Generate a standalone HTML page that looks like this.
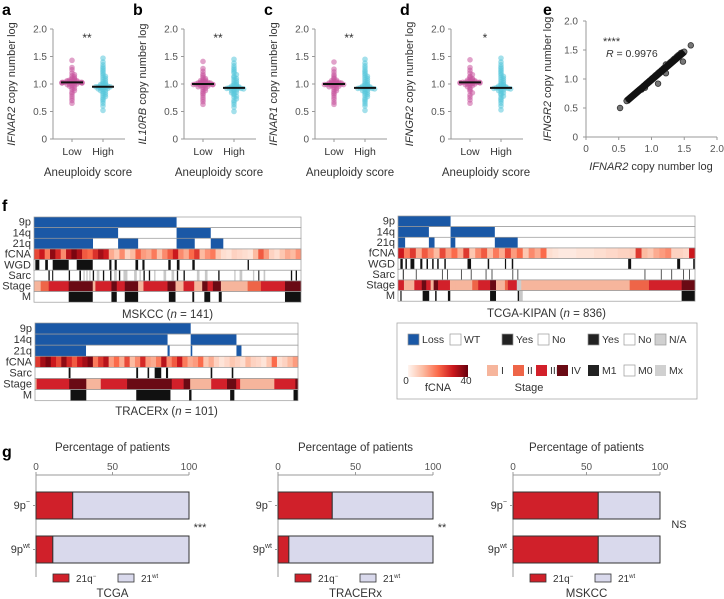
<!DOCTYPE html>
<html><head><meta charset="utf-8"><style>
html,body{margin:0;padding:0;background:#fff;}
svg{display:block;font-family:"Liberation Sans",sans-serif;}
</style></head><body>
<svg id="fig" width="724" height="599" viewBox="0 0 724 599" xmlns="http://www.w3.org/2000/svg"></svg>
<script>
// ---------- data: panels a-d ----------
const geneNames = ["IFNAR2","IL10RB","IFNAR1","IFNGR2"];
const sigLabels = ["**","**","**","*"];
const groupLabels = ["Low","High"];
const medLow = [1.03,1.0,1.0,1.03];
const medHigh = [0.95,0.93,0.93,0.93];
const lowA = [1.43,1.3,1.26,1.2,1.17,1.15,1.13,1.11,1.1,1.09,1.08,1.07,1.06,1.06,1.05,1.05,1.04,1.04,1.04,1.03,1.03,1.03,1.03,1.02,1.02,1.02,1.02,1.01,1.01,1.0,1.0,0.99,0.98,0.97,0.96,0.94,0.92,0.9,0.88,0.85,0.82,0.78,0.74,0.7,0.65];
const highA = [1.47,1.4,1.35,1.31,1.28,1.25,1.22,1.19,1.16,1.14,1.12,1.1,1.08,1.06,1.04,1.02,1.01,1.0,0.99,0.98,0.97,0.96,0.96,0.95,0.95,0.95,0.94,0.94,0.93,0.92,0.91,0.9,0.89,0.88,0.86,0.85,0.83,0.81,0.79,0.77,0.75,0.72,0.69,0.65,0.6,0.52];
const lowB = [1.41,1.28,1.23,1.18,1.15,1.12,1.1,1.08,1.07,1.06,1.05,1.04,1.03,1.03,1.02,1.02,1.01,1.01,1.01,1.0,1.0,1.0,1.0,0.99,0.99,0.99,0.98,0.98,0.97,0.96,0.95,0.94,0.92,0.9,0.88,0.86,0.83,0.8,0.76,0.72,0.68,0.63];
const highB = [1.45,1.38,1.33,1.29,1.26,1.23,1.2,1.17,1.14,1.12,1.1,1.08,1.06,1.04,1.02,1.0,0.99,0.98,0.97,0.96,0.95,0.94,0.94,0.93,0.93,0.93,0.92,0.92,0.91,0.9,0.89,0.88,0.87,0.85,0.84,0.82,0.8,0.78,0.76,0.73,0.7,0.67,0.63,0.58,0.5];
const lowC = [1.4,1.27,1.22,1.17,1.14,1.11,1.09,1.07,1.06,1.05,1.04,1.03,1.03,1.02,1.02,1.01,1.01,1.0,1.0,1.0,1.0,0.99,0.99,0.99,0.98,0.98,0.97,0.96,0.95,0.94,0.92,0.9,0.88,0.86,0.83,0.8,0.76,0.72,0.67,0.63];
const highC = [1.45,1.38,1.33,1.29,1.25,1.22,1.19,1.16,1.14,1.12,1.1,1.08,1.06,1.04,1.02,1.0,0.99,0.98,0.97,0.96,0.95,0.94,0.94,0.93,0.93,0.93,0.92,0.92,0.91,0.9,0.89,0.88,0.86,0.85,0.83,0.81,0.79,0.77,0.74,0.71,0.68,0.64,0.6,0.52];
const lowD = [1.44,1.3,1.25,1.2,1.17,1.14,1.12,1.1,1.09,1.08,1.07,1.06,1.05,1.05,1.04,1.04,1.03,1.03,1.03,1.03,1.02,1.02,1.02,1.01,1.01,1.0,1.0,0.99,0.98,0.97,0.95,0.93,0.9,0.87,0.84,0.8,0.76,0.71,0.65];
const highD = [1.47,1.4,1.35,1.31,1.28,1.25,1.22,1.19,1.16,1.14,1.12,1.1,1.08,1.06,1.04,1.02,1.0,0.99,0.98,0.97,0.96,0.95,0.94,0.94,0.93,0.93,0.93,0.92,0.92,0.91,0.9,0.89,0.88,0.86,0.84,0.82,0.8,0.78,0.75,0.72,0.69,0.65,0.6,0.53];
const lowSets = [lowA,lowB,lowC,lowD];
const highSets = [highA,highB,highC,highD];
const yTicks = [0,0.5,1.0,1.5,2.0];
const yTickLabels = ["0","0.5","1.0","1.5","2.0"];
// ---------- data: panel e ----------
const eX = [0.52,0.62,0.65,0.68,0.7,0.73,0.75,0.78,0.8,0.82,0.85,0.88,0.9,0.91,0.93,0.95,0.97,1.0,1.02,1.05,1.07,1.1,1.1,1.12,1.15,1.18,1.2,1.22,1.22,1.25,1.28,1.3,1.33,1.35,1.38,1.4,1.42,1.45,1.48,1.5,1.6];
const eY = [0.5,0.62,0.65,0.68,0.7,0.73,0.75,0.78,0.8,0.82,0.82,0.88,0.85,0.91,0.93,0.95,0.97,1.0,1.02,1.05,1.07,0.92,1.1,1.12,1.15,1.18,1.2,1.1,1.25,1.25,1.28,1.3,1.33,1.35,1.38,1.4,1.42,1.45,1.3,1.47,1.58];
const eTicks = [0,0.5,1.0,1.5,2.0];
// ---------- data: panel f heatmaps (segments in % of width) ----------
const stageColors = ["#cccccc","#f6b59c","#ee6548","#d2202a","#6a0a14"];
const mskLoss9p = [[0,53.4]];
const mskLoss14q = [[0,31.5],[53.4,66.2]];
const mskLoss21q = [[0,22.1],[31.5,39],[53.4,60.2],[66.2,70.9]];
const mskFcna = [24,30,18,36,28,16,32,38,33,22,20,27,34,30,12,8,16,6,10,21,14,12,18,9,16,22,30,16,12,20,26,10,15,18,8,4,3,6,5,4,3,10,22,14,6,4,8,12,10,15];
const mskWgd = [[0.5,2],[4.2,5.2],[7,13],[16,22],[28.2,29],[30.2,31],[38,39],[40.6,41.4],[50.3,51.2],[53.5,54.5],[59.3,60.2],[80,80.5]];
const mskSarcBlack = [[5.4,5.9],[6.8,7.2],[13,13.5],[17,17.6],[22,22.5],[25.8,26.3],[28.5,29],[31.8,32.3],[41,41.5],[43,43.5],[53.5,54],[56,56.5],[69,69.5],[84,84.4],[96.2,96.7],[98,98.5]];
const mskSarcGray = [[18.5,19],[19.6,20.1],[20.7,21.2],[23.5,24.5],[30,31],[33.5,35],[37.5,38.5],[39.5,40],[45,45.5],[48.5,49.5],[51.5,52.5],[61,62],[64,65],[75,75.5],[77,78],[82,82.5],[86,86.6]];
const mskStage = [[1,0,2.5],[2,2.5,5.5],[3,5.5,13],[4,13,22],[1,22,23],[3,23,29],[4,29,31],[3,31,34],[4,34,39],[1,39,41],[3,41,50],[4,50,53],[1,53,56],[3,56,60],[1,60,63],[4,63,65],[3,65,67],[4,67,70],[1,70,80],[2,80,85],[3,85,94],[4,94,100]];
const mskM = [[13,22],[29,31],[34,39],[50.5,53],[59.3,60],[63.8,66],[69.2,70.3],[94,100]];
const trxLoss9p = [[0,59.2]];
const trxLoss14q = [[0,50.4],[59.2,76.6]];
const trxLoss21q = [[0,19.4],[50.4,51.2],[59.2,59.8],[76.6,78.5]];
const trxFcna = [26,34,38,30,24,36,28,22,30,34,38,18,26,32,14,20,12,24,10,16,28,14,12,18,32,16,22,30,18,12,14,20,8,12,6,3,5,8,6,4,10,6,5,3,8,20,4,6,10,14];
const trxSarc = [[12.8,13.5],[38.5,39.2],[42.8,43.4],[45.5,48],[49.8,50.6],[66.8,67.4],[74.8,75.4]];
const trxStage = [[1,0,0.6],[3,0.6,13],[4,13,19.5],[1,19.5,25],[3,25,35],[4,35,52],[3,52,56.5],[4,56.5,59],[1,59,67],[3,67,73],[4,73,76.5],[3,76.5,78],[1,78,91],[3,91,99],[4,99,100]];
const trxM = [[13.5,19.5],[38.5,51.5],[58.6,59.5],[74.2,75.8],[98.3,100]];
const tcgaLoss9p = [[0,17.7]];
const tcgaLoss14q = [[0,10.4],[17.7,32.6]];
const tcgaLoss21q = [[0,2.4],[10.4,12.3],[17.7,19.3],[32.6,40.3]];
const tcgaFcna = [30,18,26,12,22,16,10,24,14,20,12,26,8,16,22,10,18,12,24,14,20,8,16,12,20,4,3,2,2,2,3,3,3,4,4,5,5,6,6,7,26,10,8,12,14,16,6,6,5,30];
const tcgaWgd = [[0.8,1.6],[2.5,3],[4.2,5.5],[7.5,8.2],[9.6,10.1],[11.5,12],[13.2,13.7],[15.6,16.1],[23.4,24.6],[30.2,30.7],[36,36.4],[38.3,38.8],[77.5,78.5],[94,95],[99.4,100]];
const tcgaSarc = [[1.6,2],[6,6.3],[14.8,15.1],[16.5,16.8],[21.2,21.5],[24.5,24.8],[29.5,29.8],[31.5,31.8],[38.5,38.8],[40.2,40.5],[83,83.3],[88.5,88.8],[92,92.3],[96,96.3],[98,98.3]];
const tcgaStage = [[3,0,2],[1,2,5.5],[3,5.5,8],[4,8,9.5],[3,9.5,11],[1,11,12],[4,12,13.5],[3,13.5,17.5],[1,17.5,19.5],[1,19.5,25],[2,25,27],[3,27,31],[4,31,33],[1,33,36],[2,36,37],[3,37,40],[0,40,41.5],[1,41.5,78],[2,78,84.5],[3,84.5,95.5],[4,95.5,100]];
const tcgaM = [[0.8,1.2],[8.3,10.5],[12.5,13],[16.8,17.6],[31,33],[40.3,40.8],[95.5,100]];
const tcgaMGray = [[40.8,42]];
// ---------- data: panel g ----------
const barCohorts = ["TCGA","TRACERx","MSKCC"];
const barSig = ["***","**","NS"];
const barRows = ["9p⁻","9p"];
const loss21 = [[24,11],[35,7],[58,58]];
const pctTicks = [0,50,100];

const NS="http://www.w3.org/2000/svg";
const svg=document.getElementById("fig");
function mk(tag,attrs,parent){const e=document.createElementNS(NS,tag);for(const k in attrs)e.setAttribute(k,attrs[k]);(parent||svg).appendChild(e);return e;}
function txt(x,y,s,size,anchor,parent,extra){const t=mk("text",Object.assign({x:x,y:y,"font-size":size,"text-anchor":anchor||"start",fill:"#333"},extra||{}),parent);t.textContent=s;return t;}

// ---------- panels a-d ----------
const axXs=[53,184,315,451];
const letters=["a","b","c","d"];
for(let p=0;p<4;p++){
  const ax=axXs[p];
  const g=mk("g",{});
  
  
  const yv=v=>139-v*55;
  const lt=txt(ax-51,15,letters[p],16,"start",g,{"font-weight":"bold",fill:"#000"});
  
  
  const axl=mk("path",{d:`M${ax},${yv(2)}V139H${ax+72}`,stroke:"#999",fill:"none","stroke-width":1},g);
  
  
  yTicks.forEach((t,i)=>{
    mk("line",{x1:ax-3,x2:ax,y1:yv(t),y2:yv(t),stroke:"#999"},g);
    const tl=txt(ax-6,yv(t)+3.5,yTickLabels[i],10,"end",g,{fill:"#555"});
    
    
  });
  const ttl=mk("text",{x:0,y:0,"font-size":11,"text-anchor":"middle",fill:"#333",transform:`translate(${ax-38},84) rotate(-90)`},g);
  ttl.innerHTML=`<tspan font-style="italic">${geneNames[p]}</tspan> copy number log`;
  
  
  const centers=[ax+19,ax+50];
  const sets=[lowSets[p],highSets[p]];
  const cols=["#c9559f","#58c6db"];
  const meds=[medLow[p],medHigh[p]];
  for(let k=0;k<2;k++){
    mk("line",{x1:centers[k],x2:centers[k],y1:139,y2:142,stroke:"#999"},g);
    const gl=txt(centers[k],155,groupLabels[k],10.5,"middle",g);
    
    
    const bins={};
    sets[k].forEach(v=>{
      const b=Math.round(yv(v)/2);
      const n=bins[b]||0;bins[b]=n+1;
      const off=(n%2?1:-1)*Math.ceil(n/2)*2.4;
      const c=mk("circle",{cx:centers[k]+Math.max(-10,Math.min(10,off)),cy:yv(v),r:2.8,fill:cols[k],"fill-opacity":0.55},g);
      
      
    });
    const md=mk("line",{x1:centers[k]-11,x2:centers[k]+11,y1:yv(meds[k]),y2:yv(meds[k]),stroke:"#111","stroke-width":2},g);
    
    
  }
  const xt=txt(ax+35,176,"Aneuploidy score",11.5,"middle",g);
  
  
  const sg=txt(ax+34,42,sigLabels[p],12,"middle",g);
  
  
}

// ---------- panel e ----------
(function(){
  const g=mk("g",{});
  
  
  const xv=v=>586+v*65.5, yv=v=>137-v*58;
  const lt=txt(543,15,"e",16,"start",g,{"font-weight":"bold",fill:"#000"});
  
  
  const axl=mk("path",{d:`M${xv(0)},${yv(2)}V${yv(0)}H${xv(2)}`,stroke:"#999",fill:"none"},g);
  
  
  eTicks.forEach((t,i)=>{
    mk("line",{x1:xv(0)-3,x2:xv(0),y1:yv(t),y2:yv(t),stroke:"#999"},g);
    mk("line",{x1:xv(t),x2:xv(t),y1:yv(0),y2:yv(0)+3,stroke:"#999"},g);
    const a=txt(xv(0)-8,yv(t)+3.5,yTickLabels[i],10,"end",g,{fill:"#555"});
    
    
    const b=txt(xv(t),yv(0)+15,yTickLabels[i],10,"middle",g,{fill:"#555"});
    
    
  });
  eX.forEach((x,i)=>{
    const c=mk("circle",{cx:xv(x),cy:yv(eY[i]),r:2.8,fill:"#777",stroke:"#333","stroke-width":0.8},g);
    
    
  });
  const fit=mk("line",{x1:xv(eX[1]),y1:yv(eY[1]),x2:xv(eX[eX.length-2]),y2:yv(eY[eY.length-2]),stroke:"#111","stroke-width":7},g);
  
  
  const s=txt(603,45,"****",11,"start",g);
  
  
  const r=mk("text",{x:606,y:57,"font-size":10.5,fill:"#333"},g);
  r.innerHTML='<tspan font-style="italic">R</tspan> = 0.9976';
  
  
  const xt=mk("text",{x:651,y:170,"font-size":11,"text-anchor":"middle",fill:"#333"},g);
  xt.innerHTML='<tspan font-style="italic">IFNAR2</tspan> copy number log';
  
  
  const yt=mk("text",{x:0,y:0,"font-size":11,"text-anchor":"middle",fill:"#333",transform:"translate(551,79) rotate(-90)"},g);
  yt.innerHTML='<tspan font-style="italic">IFNGR2</tspan> copy number log';
  
  
})();

// ---------- panel f ----------
function fcnaColor(v){
  const st=[[0,[255,245,240]],[10,[252,187,161]],[20,[251,106,74]],[30,[203,24,29]],[40,[103,0,13]]];
  v=Math.max(0,Math.min(40,v));
  for(let i=0;i<4;i++){if(v<=st[i+1][0]){const t=(v-st[i][0])/10;const c=st[i][1].map((a,j)=>Math.round(a+(st[i+1][1][j]-a)*t));return `rgb(${c})`;}}
  return "rgb(103,0,13)";
}
function heatmap(name,x0,x1,y0,rh,rows,title,ty){
  const g=mk("g",{});
  
  
  const W=x1-x0, px=p=>x0+p/100*W;
  rows.forEach((row,i)=>{
    const y=y0+i*rh;
    const lab=txt(x0-3,y+rh-2,row.label,11,"end",g,{fill:"#333"});
    
    
    const rg=mk("g",{},g);
    
    
    mk("rect",{x:x0,y:y,width:W,height:rh,fill:"#fff"},rg);
    if(row.type==="seg"){
      row.segs.forEach(s=>{const r=mk("rect",{x:px(s[0]),y:y,width:Math.max(0.8,px(s[1])-px(s[0])),height:rh,fill:row.color},rg);});
      (row.gray||[]).forEach(s=>{const r=mk("rect",{x:px(s[0]),y:y,width:Math.max(0.8,px(s[1])-px(s[0])),height:rh,fill:"#c8c8c8"},rg);});
    }else if(row.type==="fcna"){
      const n=row.vals.length,cw=W/n;
      row.vals.forEach((v,j)=>{const r=mk("rect",{x:x0+j*cw,y:y,width:cw+0.4,height:rh,fill:fcnaColor(v)},rg);});
    }else if(row.type==="stage"){
      row.segs.forEach(s=>{const r=mk("rect",{x:px(s[1]),y:y,width:px(s[2])-px(s[1])+0.3,height:rh,fill:stageColors[s[0]]},rg);});
    }
    mk("rect",{x:x0,y:y,width:W,height:rh,fill:"none",stroke:"#999","stroke-width":0.7},rg);
  });
  const t=mk("text",{x:(x0+x1)/2,y:ty,"font-size":11.5,"text-anchor":"middle",fill:"#333"},g);
  t.innerHTML=title;
  
  
}
const BL="#1a58a6",BK="#111";
const fl=txt(2,211,"f",16,"start",null,{"font-weight":"bold",fill:"#000"});


heatmap("heatmap-mskcc",34,301,217,10.65,[
  {label:"9p",type:"seg",segs:mskLoss9p,color:BL},
  {label:"14q",type:"seg",segs:mskLoss14q,color:BL},
  {label:"21q",type:"seg",segs:mskLoss21q,color:BL},
  {label:"fCNA",type:"fcna",vals:mskFcna},
  {label:"WGD",type:"seg",segs:mskWgd,color:BK},
  {label:"Sarc",type:"seg",segs:mskSarcBlack,gray:mskSarcGray,color:BK},
  {label:"Stage",type:"stage",segs:mskStage},
  {label:"M",type:"seg",segs:mskM,color:BK}],
  'MSKCC (<tspan font-style="italic">n</tspan> = 141)',318);
heatmap("heatmap-tracerx",35,298,323,11.1,[
  {label:"9p",type:"seg",segs:trxLoss9p,color:BL},
  {label:"14q",type:"seg",segs:trxLoss14q,color:BL},
  {label:"21q",type:"seg",segs:trxLoss21q,color:BL},
  {label:"fCNA",type:"fcna",vals:trxFcna},
  {label:"Sarc",type:"seg",segs:trxSarc,color:BK},
  {label:"Stage",type:"stage",segs:trxStage},
  {label:"M",type:"seg",segs:trxM,color:BK}],
  'TRACERx (<tspan font-style="italic">n</tspan> = 101)',415);
heatmap("heatmap-tcga-kipan",398,695,216,10.65,[
  {label:"9p",type:"seg",segs:tcgaLoss9p,color:BL},
  {label:"14q",type:"seg",segs:tcgaLoss14q,color:BL},
  {label:"21q",type:"seg",segs:tcgaLoss21q,color:BL},
  {label:"fCNA",type:"fcna",vals:tcgaFcna},
  {label:"WGD",type:"seg",segs:tcgaWgd,color:BK},
  {label:"Sarc",type:"seg",segs:tcgaSarc,color:"#444"},
  {label:"Stage",type:"stage",segs:tcgaStage},
  {label:"M",type:"seg",segs:tcgaM,gray:tcgaMGray,color:BK}],
  'TCGA-KIPAN (<tspan font-style="italic">n</tspan> = 836)',317);

// legend
(function(){
  const g=mk("g",{});
  
  
  mk("rect",{x:397,y:323,width:300,height:76,fill:"#fff",stroke:"#aaa","stroke-width":0.8},g);
  const items1=[[408,BL,"Loss"],[450,"#fff","WT"],[502,"#222","Yes"],[538,"#fff","No"],[588,"#222","Yes"],[624,"#fff","No"],[655,"#d0d0d0","N/A"]];
  items1.forEach(it=>{
    const sq=mk("rect",{x:it[0],y:334,width:11,height:11,fill:it[1],stroke:"#999","stroke-width":0.7},g);
    
    
    const t=txt(it[0]+14,343,it[2],10.5,"start",g);
    
    
  });
  const defs=mk("defs",{},g);
  const lg=mk("linearGradient",{id:"fg"},defs);
  [[0,"#fff5f0"],[0.25,"#fcbba1"],[0.5,"#fb6a4a"],[0.75,"#cb181d"],[1,"#67000d"]].forEach(s=>mk("stop",{offset:s[0],"stop-color":s[1]},lg));
  const gb=mk("rect",{x:408,y:365,width:60,height:12,fill:"url(#fg)"},g);
  
  
  txt(406,384,"0",10,"middle",g);
  txt(466,384,"40",10,"middle",g);
  const f=txt(438,391,"fCNA",11,"middle",g);
  
  
  const items2=[[487,stageColors[1],"I"],[513,stageColors[2],"II"],[536,stageColors[3],"III"],[557,stageColors[4],"IV"],[588,"#222","M1"],[624,"#fff","M0"],[655,"#d0d0d0","Mx"]];
  items2.forEach(it=>{
    const sq=mk("rect",{x:it[0],y:365,width:11,height:11,fill:it[1],stroke:it[1]==="#fff"?"#999":"none","stroke-width":0.7},g);
    
    
    const t=txt(it[0]+14,374,it[2],10.5,"start",g);
    
    
  });
  const st=txt(529,391,"Stage",11,"middle",g);
  
  
})();

// ---------- panel g ----------
const gl=txt(2,457,"g",16,"start",null,{"font-weight":"bold",fill:"#000"});


const gAx=[[36,189],[278,433],[513,660]];
const sigX=[200,442,679];
const sigY=[531,531,528];
barCohorts.forEach((name,c)=>{
  const g=mk("g",{});
  
  
  const [a,b]=gAx[c]; const xv=v=>a+v/100*(b-a);
  const tt=txt((a+b)/2,451,"Percentage of patients",11.5,"middle",g);
  
  
  const axl=mk("path",{d:`M${a},577V475H${b}`,stroke:"#999",fill:"none"},g);
  
  
  pctTicks.forEach(t=>{
    mk("line",{x1:xv(t),x2:xv(t),y1:472,y2:475,stroke:"#999"},g);
    const l=txt(xv(t),470,String(t),10,"middle",g,{fill:"#555"});
    
    
  });
  [492,536].forEach((y,r)=>{
    const v=loss21[c][r];
    const r1=mk("rect",{x:xv(0),y:y,width:xv(v)-xv(0),height:27,fill:"#d0202a",stroke:"#333","stroke-width":1},g);
    
    
    const r2=mk("rect",{x:xv(v),y:y,width:xv(100)-xv(v),height:27,fill:"#d9d9ec",stroke:"#333","stroke-width":1},g);
    
    
    mk("line",{x1:a-3,x2:a,y1:y+13.5,y2:y+13.5,stroke:"#999"},g);
    const l=mk("text",{x:a-6,y:y+17,"font-size":11,"text-anchor":"end",fill:"#333"},g);
    l.innerHTML=r===0?"9p<tspan font-size='7' dy='-5'>−</tspan>":"9p<tspan font-size='7' dy='-5'>wt</tspan>";
    
    
  });
  const sg=txt(sigX[c],sigY[c],barSig[c],11,"middle",g);
  
  
  const lx=a+17;
  const s1=mk("rect",{x:lx,y:574,width:16,height:8,fill:"#d0202a",stroke:"#333","stroke-width":0.8},g);
  
  
  const t1=mk("text",{x:lx+23,y:582,"font-size":10,fill:"#333"},g);
  t1.innerHTML="21q<tspan font-size='6' dy='-4'>−</tspan>";
  
  
  const s2=mk("rect",{x:lx+65,y:574,width:16,height:8,fill:"#d9d9ec",stroke:"#333","stroke-width":0.8},g);
  
  
  const t2=mk("text",{x:lx+88,y:582,"font-size":10,fill:"#333"},g);
  t2.innerHTML="21<tspan font-size='6' dy='-4'>wt</tspan>";
  
  
  const ct=txt((a+b)/2,597,name,11.5,"middle",g);
  
  
});
</script>
</body></html>
